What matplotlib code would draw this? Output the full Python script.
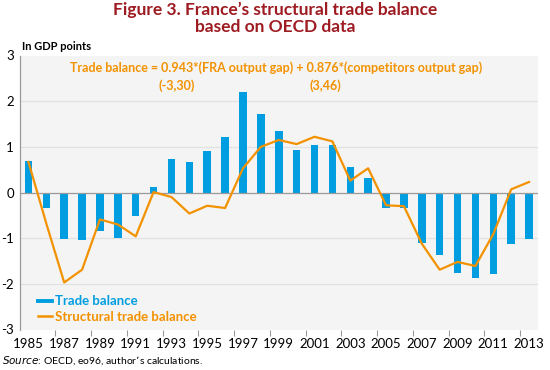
import matplotlib
matplotlib.use("Agg")
import matplotlib.pyplot as plt
from matplotlib.lines import Line2D
from matplotlib.font_manager import FontProperties

years = list(range(1985, 2014))
trade_balance = [0.68, -0.34, -1.01, -1.04, -0.85, -0.99, -0.52, 0.12, 0.74, 0.66,
                 0.90, 1.22, 2.21, 1.71, 1.35, 0.92, 1.04, 1.04, 0.55, 0.32,
                 -0.35, -0.34, -1.10, -1.36, -1.77, -1.87, -1.79, -1.12, -1.01]
structural = [0.67, -0.68, -1.97, -1.69, -0.59, -0.70, -0.96, 0.01, -0.10, -0.46,
              -0.29, -0.34, 0.53, 1.00, 1.15, 1.06, 1.22, 1.12, 0.26, 0.53,
              -0.28, -0.30, -1.12, -1.69, -1.52, -1.61, -0.91, 0.07, 0.23]
yticks = [-3, -2, -1, 0, 1, 2, 3]

blue = "#009EE0"
orange = "#F39200"
red = "#9E1B22"

plt.rcParams['font.family'] = ['Lato', 'DejaVu Sans']

W, H = 550, 370
fig = plt.figure(figsize=(W / 100, H / 100), dpi=100)
ax = fig.add_axes([19.5 / W, (H - 329.5) / H, (538 - 19.5) / W, (329.5 - 55.5) / H])
ax.set_facecolor("#F4F4F4")

x = list(range(len(years)))
for v in yticks:
    if v not in (-3, 0, 3):
        ax.axhline(v, color="#E2E2E2", lw=0.9, zorder=0)
ax.bar(x, trade_balance, width=0.42, color=blue, zorder=2)
ax.axhline(0, color="#9A9A9A", lw=0.9, zorder=3)
ax.plot(x, structural, color=orange, lw=1.6, zorder=4)

ax.set_xlim(-0.5, len(years) - 0.5)
ax.set_ylim(-3, 3)
ax.set_yticks(yticks)
ax.set_yticklabels([str(v) for v in yticks], fontsize=9.5)
ax.tick_params(axis="y", length=0, pad=4)

ax.set_xticks(x[::2])
ax.set_xticklabels([str(y) for y in years[::2]], fontsize=9.5)
ax.set_xticks([i + 1.5 for i in range(0, len(years) - 1, 2)], minor=True)
ax.tick_params(axis="x", which="major", length=0, pad=6)
ax.tick_params(axis="x", which="minor", length=4, color="#9A9A9A", width=0.8)

for s in ["top", "right", "bottom"]:
    ax.spines[s].set_visible(False)
ax.spines["left"].set_color("#9A9A9A")
ax.spines["left"].set_linewidth(0.9)

handles = [Line2D([0], [0], color=blue, lw=2.8),
           Line2D([0], [0], color=orange, lw=1.8)]
leg = ax.legend(handles, ["Trade balance", "Structural trade balance"],
                loc="lower left", bbox_to_anchor=(0.012, -0.018), frameon=False,
                handlelength=1.1, handletextpad=0.25, labelspacing=0.25,
                prop=FontProperties(family="Lato", weight="bold", size=9.5))
for t, c in zip(leg.get_texts(), [blue, orange]):
    t.set_color(c)

ax.text(0.495, 0.955, "Trade balance = 0.943*(FRA output gap) + 0.876*(competitors output gap)",
        transform=ax.transAxes, ha="center", va="center", color=orange,
        fontsize=9, fontweight="bold")
ax.text(0.304, 0.889, "(-3,30)", transform=ax.transAxes, ha="center", va="center",
        color=orange, fontsize=9, fontweight="bold")
ax.text(0.589, 0.889, "(3,46)", transform=ax.transAxes, ha="center", va="center",
        color=orange, fontsize=9, fontweight="bold")

fig.text(0.5, 1 - 15.5 / H, "Figure 3. France\u2019s structural trade balance",
         ha="center", va="baseline", color=red, fontsize=12.5, fontweight="bold")
fig.text(0.5, 1 - 32.5 / H, "based on OECD data",
         ha="center", va="baseline", color=red, fontsize=12.5, fontweight="bold")
fig.text(22 / W, 1 - 46 / H, "In GDP points", ha="left", va="center",
         fontsize=8, fontweight="bold")
fig.text(2 / W, 1 - 361 / H, "$\\it{Source}$: OECD, eo96, author\u2019s calculations.",
         ha="left", va="center", fontsize=7.5)

fig.savefig("out.png", dpi=100)
